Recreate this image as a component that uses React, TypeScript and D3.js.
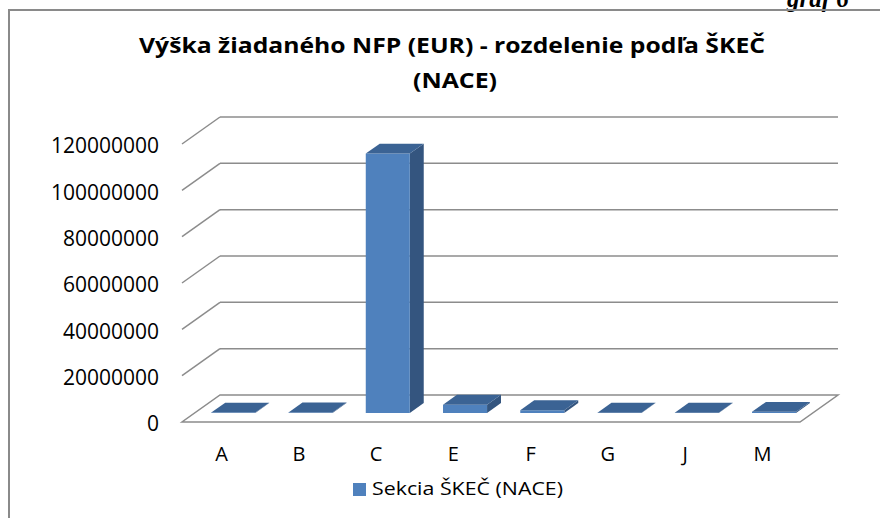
import React from "react";
import * as d3 from "d3";

const categories = ["A", "B", "C", "E", "F", "G", "J", "M"];
const values = [200000, 250000, 112000000, 3600000, 1200000, 150000, 100000, 500000];
const yTicks = [0, 20000000, 40000000, 60000000, 80000000, 100000000, 120000000];
const titleLines = ["Výška žiadaného NFP (EUR) - rozdelenie podľa ŠKEČ", "(NACE)"];
const seriesName = "Sekcia ŠKEČ (NACE)";
const cornerLabel = "graf 6";

const W = 880;
const H = 518;
const DX = 38; // depth offset x (front -> back)
const DY = 27; // depth offset y
const F1 = 0.333; // bar front depth fraction
const F2 = 0.7; // bar back depth fraction

export default function App() {
  const y = d3.scaleLinear().domain([0, 120000000]).range([395, 117]);
  const x = d3.scaleBand<string>().domain(categories).range([182, 800]).padding(0);
  const bw = x.bandwidth();
  const barW = bw * 0.57;

  const P = (px: number, v: number, f: number): [number, number] => [px + DX * f, y(v) + DY * (1 - f)];
  const poly = (pts: [number, number][]) => pts.map((p) => p.join(",")).join(" ");

  const font = "'Open Sans', 'Noto Sans', sans-serif";
  const grid = "#8c8c8c";

  const xL = x.range()[0];
  const xR = x.range()[1];

  return (
    <svg width={W} height={H} style={{ position: "absolute", left: 0, top: 0, background: "#fff" }}>
      <rect x={0} y={0} width={W} height={H} fill="#fff" />
      {/* corner label, clipped at top as in the source */}
      <text x={787} y={7} fontFamily="'Liberation Serif', serif" fontWeight="bold" fontStyle="italic" fontSize={25} fill="#000">
        {cornerLabel}
      </text>
      {/* chart border */}
      <rect x={9} y={10} width={W + 20} height={H + 20} fill="none" stroke="#8a8a8a" strokeWidth={2} />

      {/* title */}
      <text x={452} y={53} textAnchor="middle" fontFamily={font} fontWeight="bold" fontSize={21} fill="#000"
        textLength={626} lengthAdjust="spacingAndGlyphs">
        {titleLines[0]}
      </text>
      <text x={455} y={88} textAnchor="middle" fontFamily={font} fontWeight="bold" fontSize={21} fill="#000"
        textLength={84} lengthAdjust="spacingAndGlyphs">
        {titleLines[1]}
      </text>

      {/* back wall gridlines + left wall diagonals */}
      {yTicks.map((t) => {
        const [bx, by] = P(xL, t, 1);
        const [fx, fy] = P(xL, t, 0);
        const [rx] = P(xR, t, 1);
        return (
          <g key={t}>
            {t !== 0 && <line x1={bx} y1={by} x2={rx} y2={by} stroke={grid} strokeWidth={1.5} />}
            {t !== 0 && <line x1={fx} y1={fy} x2={bx} y2={by} stroke={grid} strokeWidth={1.5} />}
            <text x={159} y={fy + 2} dy="0.35em" textAnchor="end" fontFamily={font} fontSize={21} fill="#000">
              {String(t)}
            </text>
          </g>
        );
      })}

      {/* floor */}
      <polygon
        points={poly([P(xL, 0, 1), P(xR, 0, 1), P(xR, 0, 0), P(xL, 0, 0)])}
        fill="#fff"
        stroke={grid}
        strokeWidth={1.5}
      />

      {/* bars */}
      {categories.map((c, i) => {
        const v = values[i];
        const xa = (x(c) as number) + (bw - barW) / 2;
        const xb = xa + barW;
        const front = poly([P(xa, 0, F1), P(xb, 0, F1), P(xb, v, F1), P(xa, v, F1)]);
        const side = poly([P(xb, 0, F1), P(xb, v, F1), P(xb, v, F2), P(xb, 0, F2)]);
        const top = poly([P(xa, v, F1), P(xb, v, F1), P(xb, v, F2), P(xa, v, F2)]);
        return (
          <g key={c}>
            <polygon points={side} fill="#34557f" />
            <polygon points={front} fill="#4f81bd" />
            <polygon points={top} fill="#3b6394" />
          </g>
        );
      })}

      {/* category labels */}
      {categories.map((c) => (
        <text key={c} x={(x(c) as number) + bw / 2 + 1} y={461} textAnchor="middle" fontFamily={font} fontSize={20} fill="#000">
          {c}
        </text>
      ))}

      {/* legend */}
      <rect x={353} y={483} width={13} height={13} fill="#4f81bd" />
      <text x={372} y={495} fontFamily={font} fontSize={19} fill="#000" textLength={191} lengthAdjust="spacingAndGlyphs">
        {seriesName}
      </text>
    </svg>
  );
}
